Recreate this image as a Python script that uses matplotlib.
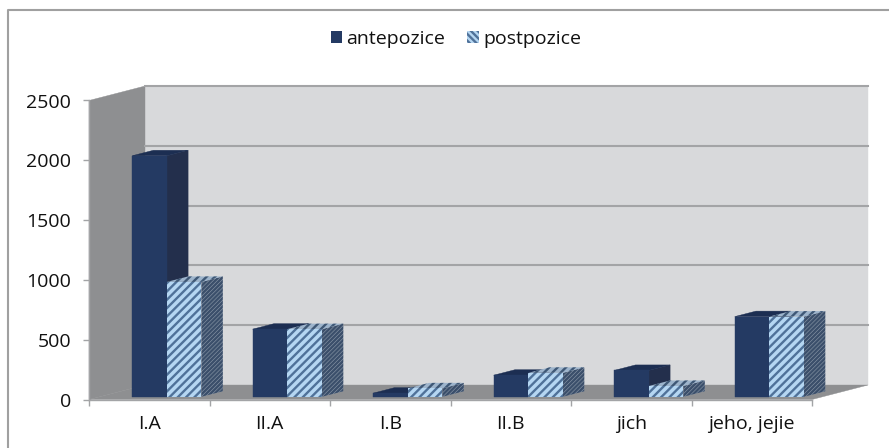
"""Pseudo-3D clustered columns: antepozice vs postpozice."""
import matplotlib

matplotlib.use("Agg")
import matplotlib.pyplot as plt
from matplotlib.lines import Line2D
from matplotlib.patches import Patch, Polygon

categories = ["I.A", "II.A", "I.B", "II.B", "jich", "jeho, jejie"]
antepozice = [2015, 565, 30, 180, 220, 670]
postpozice = [960, 565, 70, 200, 90, 670]
y_ticks = [0, 500, 1000, 1500, 2000, 2500]

W, H = 889, 448
LEFT, RIGHT, Y0, Y2500 = 89, 812, 399.5, 100.5

# depth of the box, in category widths and in value units
DEPTH_X = 56 / 120.5
DEPTH_Y = 121
BAR_START = 0.27
BAR_W = 0.2875
D0, D1 = 0.19, 0.57

plt.rcParams["font.family"] = ["Open Sans", "DejaVu Sans"]
plt.rcParams["hatch.linewidth"] = 1.7

fig = plt.figure(figsize=(W / 100, H / 100), dpi=100)
ax = fig.add_axes([LEFT / W, 1 - Y0 / H, (RIGHT - LEFT) / W, (Y0 - Y2500) / H])
ax.set_xlim(0, len(categories))
ax.set_ylim(0, 2500)
ax.patch.set_visible(False)


def pt(x, v, d=0.0):
    return (x + d * DEPTH_X, v + d * DEPTH_Y)


def face(pts, color, hatch=None, hatch_color=None, z=3):
    if hatch:
        p = Polygon(pts, closed=True, facecolor=color, edgecolor=hatch_color,
                    hatch=hatch, linewidth=0, zorder=z, clip_on=False)
    else:
        p = Polygon(pts, closed=True, facecolor=color, edgecolor=color,
                    linewidth=0.3, zorder=z, clip_on=False)
    ax.add_patch(p)


n = len(categories)
WALL = "#d8d9db"
SIDE = "#8e8f91"

# walls and floor
face([pt(0, 0, 1), pt(n, 0, 1), pt(n, 2500, 1), pt(0, 2500, 1)], WALL, z=1)
face([pt(0, 0), pt(0, 2500), pt(0, 2500, 1), pt(0, 0, 1)], SIDE, z=1)
face([pt(0, 0), pt(n, 0), pt(n, 0, 1), pt(0, 0, 1)], SIDE, z=1)
for v in y_ticks[1:]:
    a, b = pt(0, v, 1), pt(n, v, 1)
    ax.plot([a[0], b[0]], [a[1], b[1]], color="#a3a4a6", lw=1.5, zorder=2, clip_on=False)


def column(x, v, front, front_h, front_hc, side, side_h, side_hc, top, top_h, top_hc, z):
    x1 = x + BAR_W
    face([pt(x1, 0, D0), pt(x1, 0, D1), pt(x1, v, D1), pt(x1, v, D0)], side, side_h, side_hc, z)
    face([pt(x, v, D0), pt(x1, v, D0), pt(x1, v, D1), pt(x, v, D1)], top, top_h, top_hc, z)
    face([pt(x, 0, D0), pt(x1, 0, D0), pt(x1, v, D0), pt(x, v, D0)], front, front_h, front_hc, z)


for i in range(n):
    z = 3 + i
    column(i + BAR_START, antepozice[i], "#243a63", None, None,
           "#232f4c", None, None, "#1c2e52", None, None, z)
    column(i + BAR_START + BAR_W, postpozice[i], "#b5d6f2", "////", "#4f7199",
           "#8b98a8", "////////", "#3b4f6b", "#9db4cc", "////", "#3f5876", z + 0.5)

ax.set_xticks(range(n + 1))
ax.set_xticklabels([])
ax.set_xticks([i + 0.5 for i in range(n)], labels=categories, minor=True)
ax.set_yticks(y_ticks)
ax.tick_params(axis="both", which="major", length=4.3, width=1, color="#a3a4a6")
ax.tick_params(axis="x", which="minor", length=0, pad=11, labelsize=14, labelcolor="#111111")
ax.tick_params(axis="y", labelsize=14, labelcolor="#111111", pad=8.5)
for s in ("top", "right"):
    ax.spines[s].set_visible(False)
for s in ("left", "bottom"):
    ax.spines[s].set_color("#a3a4a6")
    ax.spines[s].set_linewidth(1)
    ax.spines[s].set_zorder(2)

handles = [
    Patch(facecolor="#243a63", label="antepozice"),
    Patch(facecolor="#b5d6f2", edgecolor="#4f7199", hatch="\\\\\\\\\\", linewidth=0, label="postpozice"),
]
fig.legend(handles=handles, loc="center", bbox_to_anchor=(456 / W, 1 - 38.5 / H), ncol=2,
           frameon=False, fontsize=14, handlelength=0.57, handleheight=0.57,
           handletextpad=0.25, columnspacing=1.13, labelcolor="#111111")

# chart frame, cropped on the right and at the bottom
fig.add_artist(Line2D([7.5 / W, 7.5 / W, 1], [0, 1 - 10.5 / H, 1 - 10.5 / H],
                      color="#a0a0a0", lw=1.5, transform=fig.transFigure))

fig.savefig("out.png", dpi=100)
